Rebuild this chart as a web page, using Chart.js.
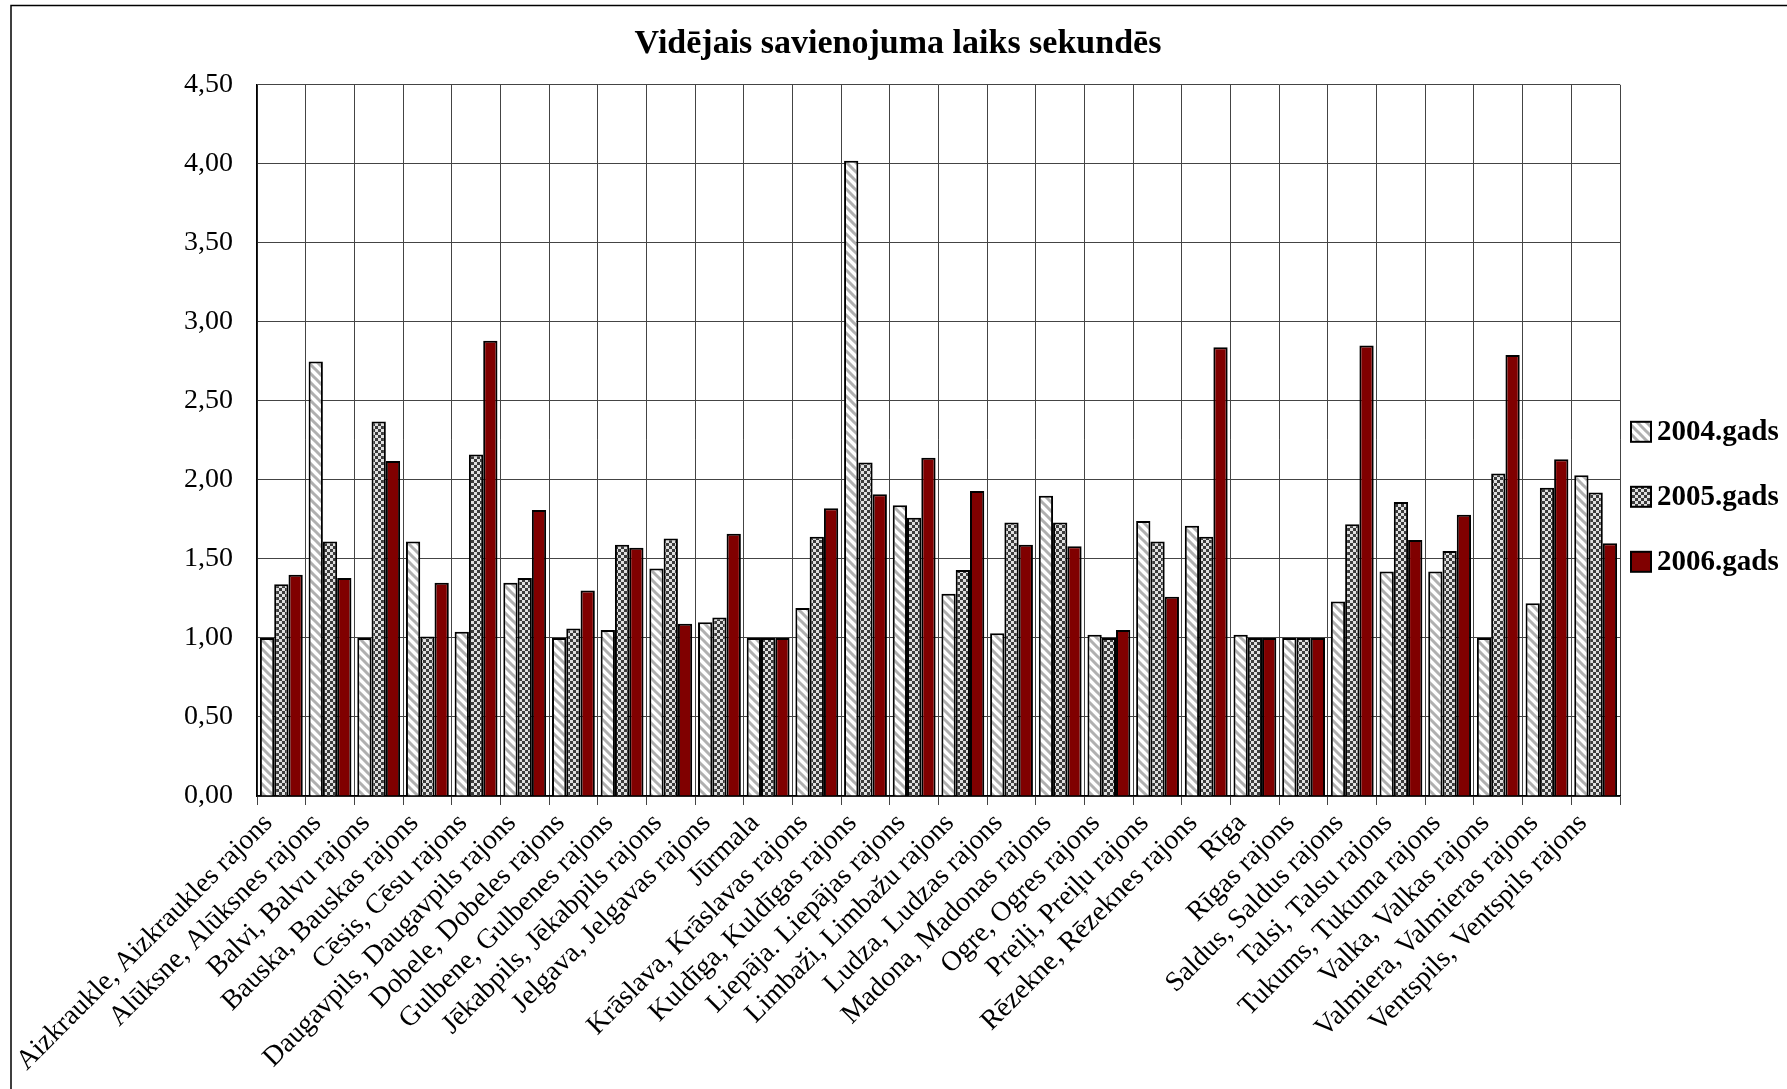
<!DOCTYPE html>
<html>
<head>
<meta charset="utf-8">
<title>Vidējais savienojuma laiks sekundēs</title>
<script src="https://cdn.jsdelivr.net/npm/chart.js@4/dist/chart.umd.min.js"></script>
<style>
  html, body { margin: 0; padding: 0; background: #fff; }
  canvas { display: block; }
</style>
</head>
<body>
<canvas id="bar-chart" width="1787" height="1089"></canvas>
<script>
const districts = [
  "Aizkraukle, Aizkraukles rajons",
  "Alūksne, Alūksnes rajons",
  "Balvi, Balvu rajons",
  "Bauska, Bauskas rajons",
  "Cēsis, Cēsu rajons",
  "Daugavpils, Daugavpils rajons",
  "Dobele, Dobeles rajons",
  "Gulbene, Gulbenes rajons",
  "Jēkabpils, Jēkabpils rajons",
  "Jelgava, Jelgavas rajons",
  "Jūrmala",
  "Krāslava, Krāslavas rajons",
  "Kuldīga, Kuldīgas rajons",
  "Liepāja. Liepājas rajons",
  "Limbaži, Limbažu rajons",
  "Ludza, Ludzas rajons",
  "Madona, Madonas rajons",
  "Ogre, Ogres rajons",
  "Preiļi, Preiļu rajons",
  "Rēzekne, Rēzeknes rajons",
  "Rīga",
  "Rīgas rajons",
  "Saldus, Saldus rajons",
  "Talsi, Talsu rajons",
  "Tukums, Tukuma rajons",
  "Valka, Valkas rajons",
  "Valmiera, Valmieras rajons",
  "Ventspils, Ventspils rajons",
];

const years = ["2004.gads", "2005.gads", "2006.gads"];

const values2004 = [1.00, 2.75, 1.00, 1.61, 1.04, 1.35, 1.00, 1.05, 1.44, 1.10, 1.00, 1.19, 4.02, 1.84,
  1.28, 1.03, 1.90, 1.02, 1.74, 1.71, 1.02, 1.00, 1.23, 1.42, 1.42, 1.00, 1.22, 2.03];
const values2005 = [1.34, 1.61, 2.37, 1.01, 2.16, 1.38, 1.06, 1.59, 1.63, 1.13, 1.00, 1.64, 2.11, 1.76,
  1.43, 1.73, 1.73, 1.00, 1.61, 1.64, 1.00, 1.00, 1.72, 1.86, 1.55, 2.04, 1.95, 1.92];
const values2006 = [1.40, 1.38, 2.12, 1.35, 2.88, 1.81, 1.30, 1.57, 1.09, 1.66, 1.00, 1.82, 1.91, 2.14,
  1.93, 1.59, 1.58, 1.05, 1.26, 2.84, 1.00, 1.00, 2.85, 1.62, 1.78, 2.79, 2.13, 1.60];

const yMin = 0, yMax = 4.5, yStep = 0.5;

const serif = '"Liberation Serif", "Times New Roman", serif';

// white with grey diagonal hatching
function stripePattern() {
  const c = document.createElement("canvas");
  c.width = 9; c.height = 9;
  const g = c.getContext("2d");
  g.fillStyle = "#fff";
  g.fillRect(0, 0, 9, 9);
  g.strokeStyle = "#b0b0b0";
  g.lineWidth = 3;
  g.beginPath();
  g.moveTo(-2, -2); g.lineTo(11, 11);
  g.moveTo(-7, 2); g.lineTo(2, 11);
  g.moveTo(7, -2); g.lineTo(11, 2);
  g.stroke();
  return g.createPattern(c, "repeat");
}

// small grey/white checkerboard
function checkerPattern() {
  const c = document.createElement("canvas");
  c.width = 6; c.height = 6;
  const g = c.getContext("2d");
  g.fillStyle = "#e0e0e0";
  g.fillRect(0, 0, 6, 6);
  g.fillStyle = "#3c3c3c";
  g.fillRect(3, 0, 3, 3);
  g.fillRect(0, 3, 3, 3);
  return g.createPattern(c, "repeat");
}

const fills = [stripePattern(), checkerPattern(), "#800000"];

// page frame + white background
const frame = {
  id: "frame",
  beforeDraw(chart) {
    const ctx = chart.ctx;
    ctx.save();
    ctx.fillStyle = "#fff";
    ctx.fillRect(0, 0, chart.width, chart.height);
    ctx.strokeStyle = "#000";
    ctx.lineWidth = 1.5;
    ctx.strokeRect(11, 5.5, chart.width + 20, chart.height + 20);
    ctx.restore();
  },
};

// legend on the right, level with the middle of the plot
const sideLegend = {
  id: "sideLegend",
  afterDraw(chart) {
    const { ctx, chartArea } = chart;
    const x = chartArea.right + 11;
    ctx.save();
    ctx.font = "bold 29px " + serif;
    ctx.textBaseline = "middle";
    chart.data.datasets.forEach((ds, i) => {
      const y = chartArea.top + 347 + i * 65;
      ctx.fillStyle = ds.backgroundColor;
      ctx.fillRect(x, y - 10, 20, 20);
      ctx.strokeStyle = "#000";
      ctx.lineWidth = 2;
      ctx.strokeRect(x, y - 10, 20, 20);
      ctx.fillStyle = "#000";
      ctx.fillText(ds.label, x + 26, y + 1);
    });
    ctx.restore();
  },
};

const series = [values2004, values2005, values2006];

const ctx = document.getElementById("bar-chart");
new Chart(ctx, {
  type: "bar",
  data: {
    labels: districts,
    datasets: series.map((vals, i) => ({
      label: years[i],
      data: vals,
      backgroundColor: fills[i],
      borderColor: "#000",
      borderWidth: 2,
      categoryPercentage: 0.88,
      barPercentage: 1.0,
    })),
  },
  options: {
    responsive: false,
    animation: false,
    layout: { padding: { left: 176, right: 167, top: 0, bottom: 0 } },
    scales: {
      x: {
        grid: { display: true, color: "#444", lineWidth: 1, drawTicks: true, tickLength: 9, tickColor: "#444" },
        border: { display: true, color: "#000", width: 1.5 },
        ticks: {
          autoSkip: false,
          maxRotation: 45,
          minRotation: 45,
          padding: 2,
          labelOffset: -13,
          color: "#000",
          font: { family: serif, size: 28 },
        },
        afterFit(scale) {
          scale.height = 293;
          scale.paddingLeft = 0;
          scale.paddingRight = 0;
        },
      },
      y: {
        min: yMin,
        max: yMax,
        grid: { display: true, color: "#444", lineWidth: 1, drawTicks: false },
        border: { display: true, color: "#000", width: 1.5 },
        ticks: {
          stepSize: yStep,
          padding: 24,
          color: "#000",
          font: { family: serif, size: 28 },
          callback: (value) => value.toFixed(2).replace(".", ","),
        },
        afterFit(scale) {
          scale.width = 81;
        },
      },
    },
    plugins: {
      legend: { display: false },
      tooltip: { enabled: false },
      title: {
        display: true,
        text: "Vidējais savienojuma laiks sekundēs",
        color: "#000",
        font: { family: serif, size: 34, weight: "bold" },
        padding: { top: 24, bottom: 20 },
      },
    },
  },
  plugins: [frame, sideLegend],
});
</script>
</body>
</html>
